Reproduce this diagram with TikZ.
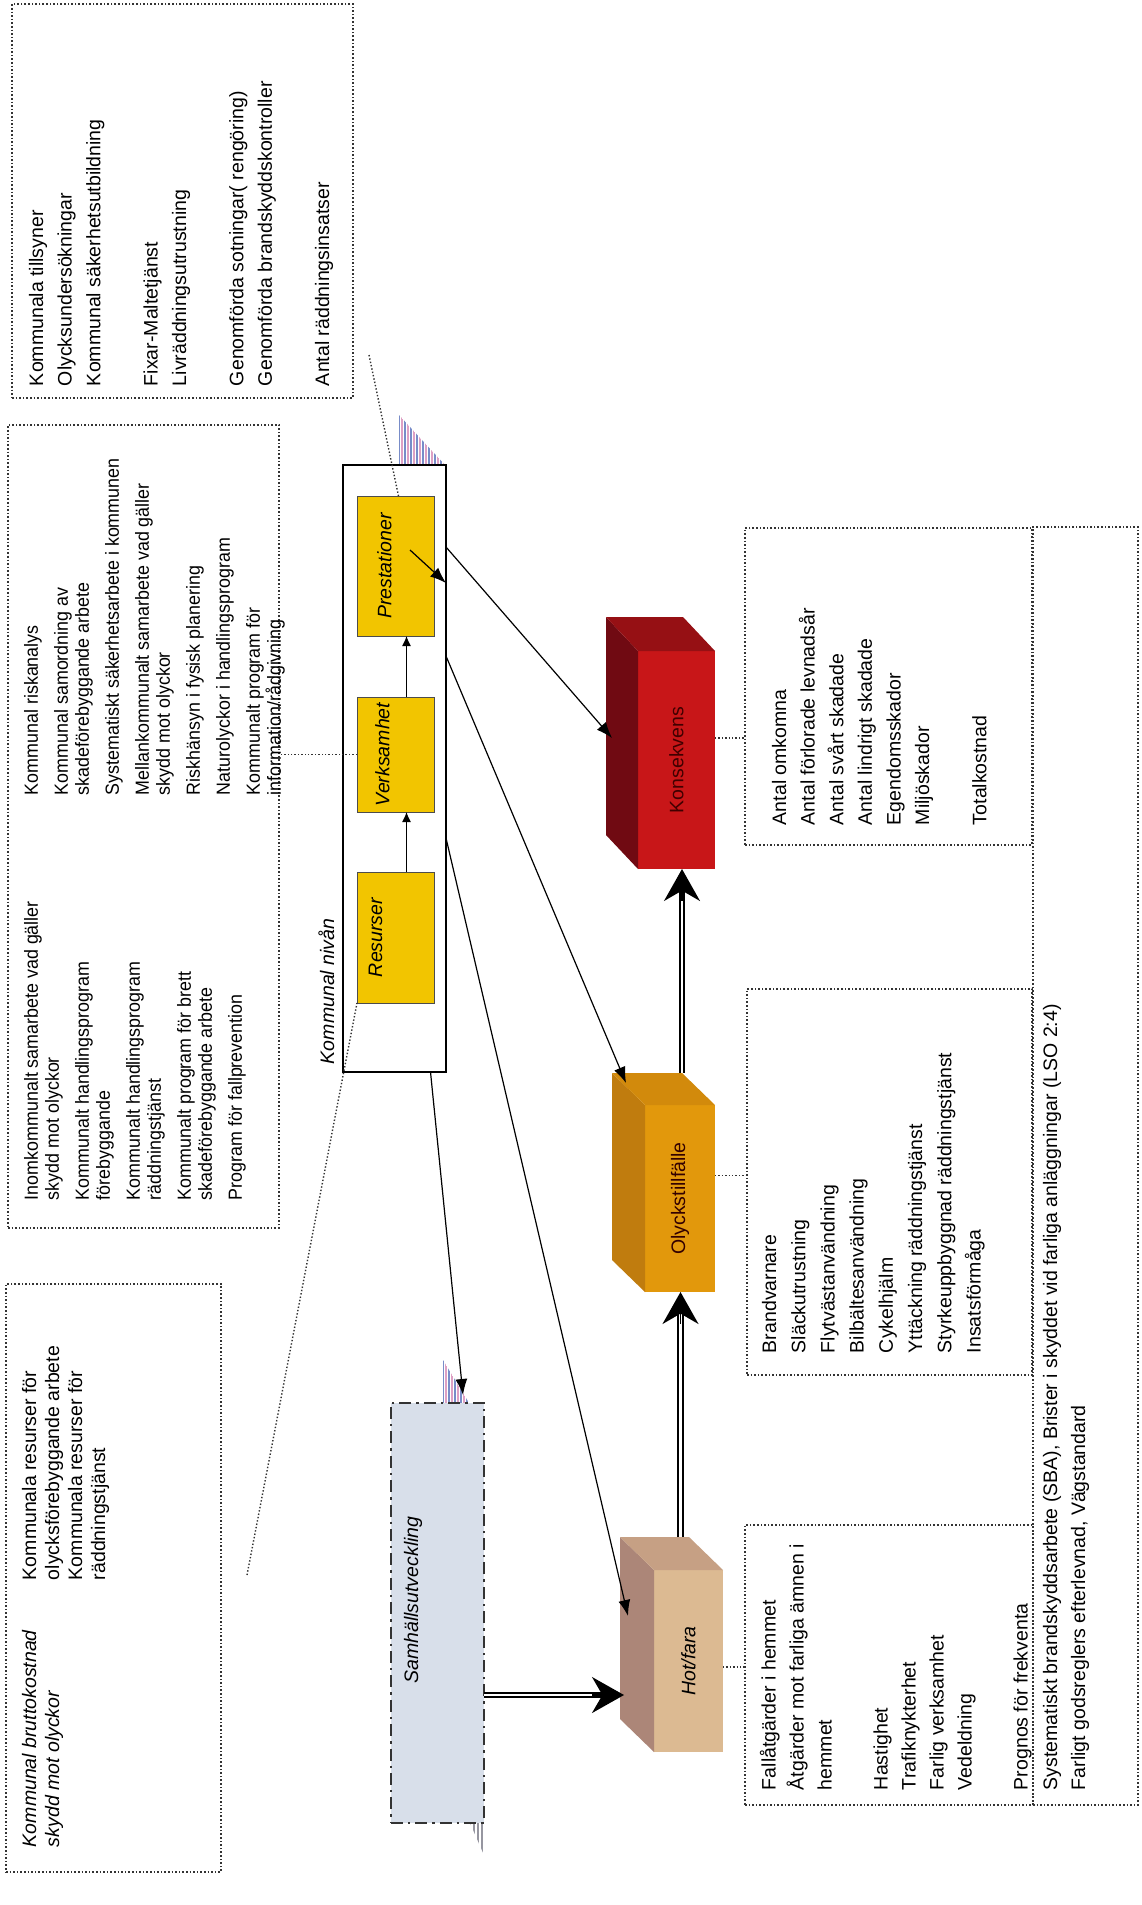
\documentclass[tikz,border=0pt]{standalone}
\usepackage{fontspec}
\setmainfont{Liberation Sans}
\newfontfamily\narrowsans[FakeStretch=0.94]{Liberation Sans}
\usetikzlibrary{arrows.meta,calc}

\definecolor{gold}{RGB}{242,197,0}
\definecolor{konsF}{RGB}{200,22,24}
\definecolor{konsL}{RGB}{112,10,18}
\definecolor{konsT}{RGB}{150,16,20}
\definecolor{olycF}{RGB}{226,152,12}
\definecolor{olycL}{RGB}{192,124,14}
\definecolor{olycT}{RGB}{210,138,12}
\definecolor{hotF}{RGB}{220,186,146}
\definecolor{hotL}{RGB}{172,134,120}
\definecolor{hotT}{RGB}{198,160,132}
\definecolor{samhF}{RGB}{216,223,234}
\definecolor{stripeA}{RGB}{120,140,200}
\definecolor{stripeB}{RGB}{222,160,196}
\definecolor{stripeC}{RGB}{150,150,160}

% rectangle node given by its corners in pixel units
\newcommand\pxbox[6]{\node[#1, anchor=north west, minimum width={(#5-#3)*0.5pt}, minimum height={(#6-#4)*0.5pt}] (#2) at (#3,#4) {};}
% side and top faces of a block whose front face is node #1
\newcommand\blockfaces[4]{%
  \fill[#2] (#1.north west) -- ++(#4) -- ($(#1.south west)+(#4)$) -- (#1.south west) -- cycle;
  \fill[#3] (#1.north west) -- ++(#4) -- ($(#1.north east)+(#4)$) -- (#1.north east) -- cycle;}

\begin{document}
\begin{tikzpicture}[x=0.5pt,y=-0.5pt,
  every node/.style={inner sep=0pt, outer sep=0pt},
  dotbox/.style={draw=black!80, densely dotted, line width=0.8pt},
  dotline/.style={densely dotted, line width=0.7pt, black!80},
  yel/.style={fill=gold, draw=black!70, line width=0.5pt},
  listtext/.style={rotate=90, anchor=north west, align=left, font=\fontsize{9.75}{14.3}\selectfont},
  listB/.style={rotate=90, anchor=north west, align=left, font=\narrowsans\fontsize{9.5}{10.5}\selectfont},
  listC/.style={rotate=90, anchor=north west, align=left, font=\fontsize{9.75}{11.5}\selectfont},
  lbl/.style={rotate=90, font=\itshape\fontsize{9.75}{12}\selectfont},
  arr/.style={-{Latex[length=8pt,width=6pt]}, line width=0.6pt},
  smallarr/.style={-{Latex[length=5pt,width=4.5pt]}, line width=0.6pt},
  dblline/.style={double=white, double distance=1.4pt, line width=0.9pt, black},
  bigtip/.style={-{Stealth[length=16pt,width=18pt]}, line width=0.9pt}]

\useasboundingbox (0,0) rectangle (1141,1905);
\fill[white] (0,0) rectangle (1141,1905);

% ---- text boxes on the left
\pxbox{dotbox}{boxA}{12}{4}{353}{398}
\pxbox{dotbox}{boxB}{8}{425}{279}{1228}
\pxbox{dotbox}{boxC}{6}{1284}{221}{1872}

\node[listtext] (ta) at (29,386) {Kommunala tillsyner\\Olycksundersökningar\\Kommunal säkerhetsutbildning\\[14.3pt]Fixar-Maltetjänst\\Livräddningsutrustning\\[14.3pt]Genomförda sotningar( rengöring)\\Genomförda brandskyddskontroller\\[14.3pt]Antal räddningsinsatser};

\node[listB] (tbr) at (24,795) {Kommunal riskanalys\\[4.5pt]Kommunal samordning av\\skadeförebyggande arbete\\[4.5pt]Systematiskt säkerhetsarbete i kommunen\\[4.5pt]Mellankommunalt samarbete vad gäller\\skydd mot olyckor\\[4.5pt]Riskhänsyn i fysisk planering\\[4.5pt]Naturolyckor i handlingsprogram\\[4.5pt]Kommunalt program för\\information/rådgivning};
\node[listB] (tbl) at (24,1200) {Inomkommunalt samarbete vad gäller\\skydd mot olyckor\\[4.5pt]Kommunalt handlingsprogram\\förebyggande\\[4.5pt]Kommunalt handlingsprogram\\räddningstjänst\\[4.5pt]Kommunalt program för brett\\skadeförebyggande arbete\\[4.5pt]Program för fallprevention};

\node[listC, font=\itshape\fontsize{9.75}{11.5}\selectfont] (tcl) at (22,1847) {Kommunal bruttokostnad\\skydd mot olyckor};
\node[listC] (tcr) at (22,1580) {Kommunala resurser för\\olycksförebyggande arbete\\Kommunala resurser för\\räddningstjänst};

% ---- hatched shadows
\begin{scope}
  \clip (399,415) -- (399,465) -- (445,465) -- cycle;
  \foreach \s in {399,405,...,447} \draw[stripeA, line width=1pt] (\s,410) -- (\s,470);
  \foreach \s in {402,408,...,450} \draw[stripeB, line width=1pt] (\s,410) -- (\s,470);
\end{scope}
\begin{scope}
  \clip (443,1360) -- (443,1403) -- (469,1403) -- cycle;
  \foreach \s in {443,449,...,470} \draw[stripeA, line width=1pt] (\s,1355) -- (\s,1410);
  \foreach \s in {446,452,...,473} \draw[stripeB, line width=1pt] (\s,1355) -- (\s,1410);
\end{scope}
\begin{scope}
  \clip (470,1823) -- (484,1823) -- (484,1855) -- cycle;
  \foreach \s in {470,474,...,486} \draw[stripeC, line width=1pt] (\s,1820) -- (\s,1860);
\end{scope}

% ---- municipal level
\pxbox{draw=black, line width=0.8pt}{kn}{343}{465}{446}{1072}
\pxbox{yel}{pres}{357}{496}{434}{636}
\pxbox{yel}{verk}{357}{697}{434}{812}
\pxbox{yel}{res}{357}{872}{434}{1003}
\node[lbl] (presl) at ([xshift=-5.5pt]pres.center) {Prestationer};
\node[lbl] (verkl) at ([xshift=-6.5pt]verk.center) {Verksamhet};
\node[lbl] (resl) at ([xshift=-10pt]res.center) {Resurser};
\node[lbl, anchor=base west] (knl) at (334,1064) {Kommunal nivån};
\draw[smallarr] ([xshift=5.5pt]res.north) -- ([xshift=5.5pt]verk.south);
\draw[smallarr] ([xshift=5.5pt]verk.north) -- ([xshift=5.5pt]pres.south);

% ---- society development
\pxbox{fill=samhF, draw=black!80, line width=0.8pt, dash pattern=on 6pt off 2.5pt on 1.2pt off 2.5pt}{samh}{391}{1403}{484}{1823}
\node[lbl] (samhl) at (413,1600) {Samhällsutveckling};

% ---- blocks
\pxbox{fill=konsF}{kons}{638}{651}{715}{869}
\blockfaces{kons}{konsL}{konsT}{-32,-34}
\node[lbl, font=\fontsize{9.75}{12}\selectfont, text=black!75!red] (konsl) at (kons.center) {Konsekvens};

\pxbox{fill=olycF}{olyc}{645}{1105}{715}{1292}
\blockfaces{olyc}{olycL}{olycT}{-33,-32}
\node[lbl, font=\fontsize{9.75}{12}\selectfont, text=black!80!red] (olycl) at (olyc.center) {Olyckstillfälle};

\pxbox{fill=hotF}{hot}{654}{1570}{723}{1752}
\blockfaces{hot}{hotL}{hotT}{-34,-33}
\node[lbl] (hotl) at (hot.center) {Hot/fara};

% ---- lists on the right
\pxbox{dotbox}{listK}{745}{528}{1032}{845}
\pxbox{dotbox}{listO}{747}{989}{1032}{1375}
\pxbox{dotbox}{listH}{745}{1525}{1033}{1805}
\pxbox{dotbox}{boxE}{1033}{527}{1138}{1805}

\node[listtext] (tk) at (772,825) {Antal omkomna\\Antal förlorade levnadsår\\Antal svårt skadade\\Antal lindrigt skadade\\Egendomsskador\\Miljöskador\\[14.3pt]Totalkostnad};
\node[listtext, font=\fontsize{9.75}{14.6}\selectfont] (to) at (762,1353) {Brandvarnare\\Släckutrustning\\Flytvästanvändning\\Bilbältesanvändning\\Cykelhjälm\\Yttäckning räddningstjänst\\Styrkeuppbyggnad räddningstjänst\\Insatsförmåga};
\node[listtext, font=\fontsize{9.75}{14}\selectfont] (th) at (760,1790) {Fallåtgärder i hemmet\\Åtgärder mot farliga ämnen i\\hemmet\\[14pt]Hastighet\\Trafiknykterhet\\Farlig verksamhet\\Vedeldning\\[14pt]Prognos för frekventa};
\node[listtext, font=\fontsize{9.75}{14}\selectfont] (te) at (1043,1790) {Systematiskt brandskyddsarbete (SBA), Brister i skyddet vid farliga anläggningar (LSO 2:4)\\Farligt godsreglers efterlevnad, Vägstandard};

% ---- dotted callouts
\coordinate (ca) at (369,355);
\coordinate (cc) at (247,1575);
\draw[dotline] (ca) -- ([xshift=1.5pt]pres.north);
\draw[dotline] (verk.west) -- (verk.west -| boxB.east);
\draw[dotline] (cc) -- (res.south west);
\draw[dotline] ([yshift=11pt]kons.east) -- ([yshift=11pt]kons.east -| listK.west);
\draw[dotline] ([yshift=11.5pt]olyc.east) -- ([yshift=11.5pt]olyc.east -| listO.west);
\draw[dotline] ([yshift=-3pt]hot.east) -- ([yshift=-3pt]hot.east -| listH.west);

% ---- influence arrows
\draw[arr] ([shift={(14.5,-16)}]pres.center) -- (kn.east |- 0,583);
\draw[arr] (kn.east |- 0,547) -- ([shift={(-26,-22)}]kons.west);
\draw[arr] (kn.east |- 0,656) -- ([shift={(-19,-22)}]olyc.north west);
\draw[arr] (kn.east |- 0,838) -- ([shift={(-26,-45)}]hot.west);
\draw[arr] ([xshift=18pt]kn.south) -- ([shift={(25.5,-8)}]samh.north);

% ---- main chain
\coordinate (s2h) at ([yshift=-41pt]samh.east);
\coordinate (h2o) at ([shift={(-8,-33)}]hot.north);
\coordinate (o2k) at ([shift={(2,-32)}]olyc.north);
\draw[dblline, shorten >=11pt] (s2h) -- ($(s2h -| hot.west)+(-30,0)$);
\draw[bigtip] ($(s2h -| hot.west)+(-62,0)$) -- ($(s2h -| hot.west)+(-30,0)$);
\draw[dblline, shorten >=11pt] (h2o) -- (h2o |- olyc.south);
\draw[bigtip] ($(h2o |- olyc.south)+(0,32)$) -- (h2o |- olyc.south);
\draw[dblline, shorten >=11pt] (o2k) -- (o2k |- kons.south);
\draw[bigtip] ($(o2k |- kons.south)+(0,32)$) -- (o2k |- kons.south);

\end{tikzpicture}
\end{document}
